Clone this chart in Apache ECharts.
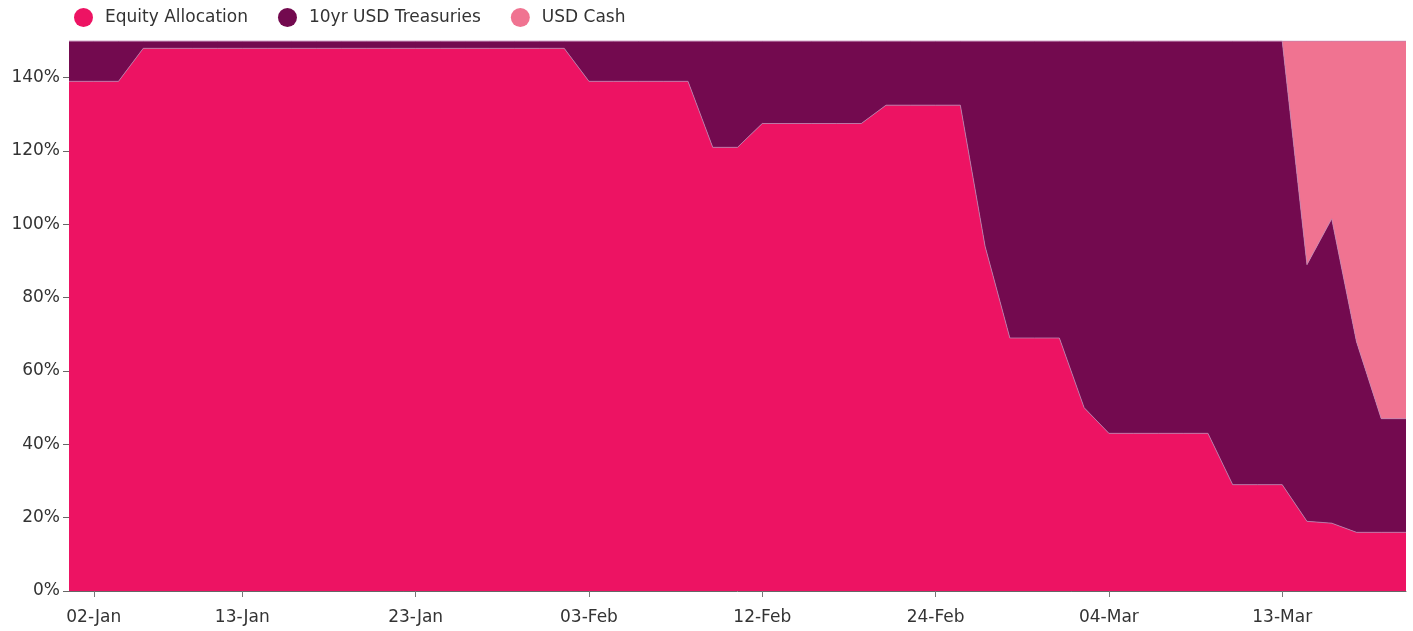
<!DOCTYPE html>
<html>
<head>
<meta charset="utf-8">
<script src="https://cdn.jsdelivr.net/npm/echarts@6/dist/echarts.min.js"></script>
<style>
  html, body { margin: 0; padding: 0; background: #ffffff; }
  #chart { width: 1413px; height: 631px; }
</style>
</head>
<body>
<div id="chart"></div>
<script>
const dates = [
  '31-Dec','02-Jan','03-Jan','06-Jan','07-Jan','08-Jan','09-Jan','13-Jan','14-Jan','15-Jan',
  '16-Jan','17-Jan','21-Jan','22-Jan','23-Jan','24-Jan','27-Jan','28-Jan','29-Jan','30-Jan',
  '31-Jan','03-Feb','04-Feb','05-Feb','06-Feb','07-Feb','10-Feb','11-Feb','12-Feb','13-Feb',
  '14-Feb','18-Feb','19-Feb','20-Feb','21-Feb','24-Feb','25-Feb','26-Feb','27-Feb','28-Feb',
  '02-Mar','03-Mar','04-Mar','05-Mar','06-Mar','09-Mar','10-Mar','11-Mar','12-Mar','13-Mar',
  '16-Mar','17-Mar','18-Mar','19-Mar','20-Mar'
];
const tickLabels = ['02-Jan','13-Jan','23-Jan','03-Feb','12-Feb','24-Feb','04-Mar','13-Mar'];
const yTicks = [0, 20, 40, 60, 80, 100, 120, 140];

const equity = [
  139,139,139,148,148,148,148,148,148,148,
  148,148,148,148,148,148,148,148,148,148,
  148,139,139,139,139,139,121,121,127.5,127.5,
  127.5,127.5,127.5,132.5,132.5,132.5,132.5,94,69,69,
  69,50,43,43,43,43,43,29,29,29,
  19,18.5,16,16,16
];
const treasuries = [
  11,11,11,2,2,2,2,2,2,2,
  2,2,2,2,2,2,2,2,2,2,
  2,11,11,11,11,11,29,29,22.5,22.5,
  22.5,22.5,22.5,17.5,17.5,17.5,17.5,56,81,81,
  81,100,107,107,107,107,107,121,121,121,
  70,83,52,31,31
];
const cash = [
  0,0,0,0,0,0,0,0,0,0,
  0,0,0,0,0,0,0,0,0,0,
  0,0,0,0,0,0,0,0,0,0,
  0,0,0,0,0,0,0,0,0,0,
  0,0,0,0,0,0,0,0,0,0,
  61,48.5,82,103,103
];

const names = ['Equity Allocation', '10yr USD Treasuries', 'USD Cash'];
const colors = ['#ED1363', '#730A4F', '#F07391'];
const FONT = 'DejaVu Sans';

const chart = echarts.init(document.getElementById('chart'), null, { renderer: 'canvas' });

const isTick = (idx, val) => tickLabels.indexOf(dates[idx]) >= 0;

function mk(i, data) {
  return {
    name: names[i],
    type: 'line',
    stack: 'total',
    data: data,
    symbol: 'none',
    color: colors[i],
    lineStyle: { width: 1, color: 'rgba(190,130,175,0.8)' },
    areaStyle: { color: colors[i], opacity: 1 },
    emphasis: { disabled: true }
  };
}

chart.setOption({
  animation: false,
  backgroundColor: '#ffffff',
  color: colors,
  legend: {
    left: 69,
    top: 3,
    icon: 'circle',
    itemWidth: 19,
    itemHeight: 19,
    itemGap: 30,
    textStyle: { fontFamily: FONT, fontSize: 17, color: '#333333', padding: [0, 0, 0, 7] },
    data: names
  },
  grid: { left: 69, right: 7, top: 41, bottom: 40, containLabel: false },
  xAxis: {
    type: 'category',
    boundaryGap: false,
    data: dates,
    axisLine: { show: true, lineStyle: { color: '#666666', width: 1 } },
    axisTick: { show: true, interval: isTick, length: 6, lineStyle: { color: '#777777' } },
    axisLabel: {
      interval: isTick,
      fontFamily: FONT,
      fontSize: 17,
      color: '#333333',
      margin: 18
    },
    splitLine: { show: false }
  },
  yAxis: {
    type: 'value',
    min: 0,
    max: 150,
    interval: 20,
    axisLine: { show: false },
    axisTick: { show: true, length: 6, customValues: yTicks, lineStyle: { color: '#666666' } },
    axisLabel: {
      customValues: yTicks,
      formatter: '{value}%',
      fontFamily: FONT,
      fontSize: 17,
      color: '#333333',
      margin: 9
    },
    splitLine: { show: false }
  },
  series: [mk(0, equity), mk(1, treasuries), mk(2, cash)]
});
</script>
</body>
</html>
